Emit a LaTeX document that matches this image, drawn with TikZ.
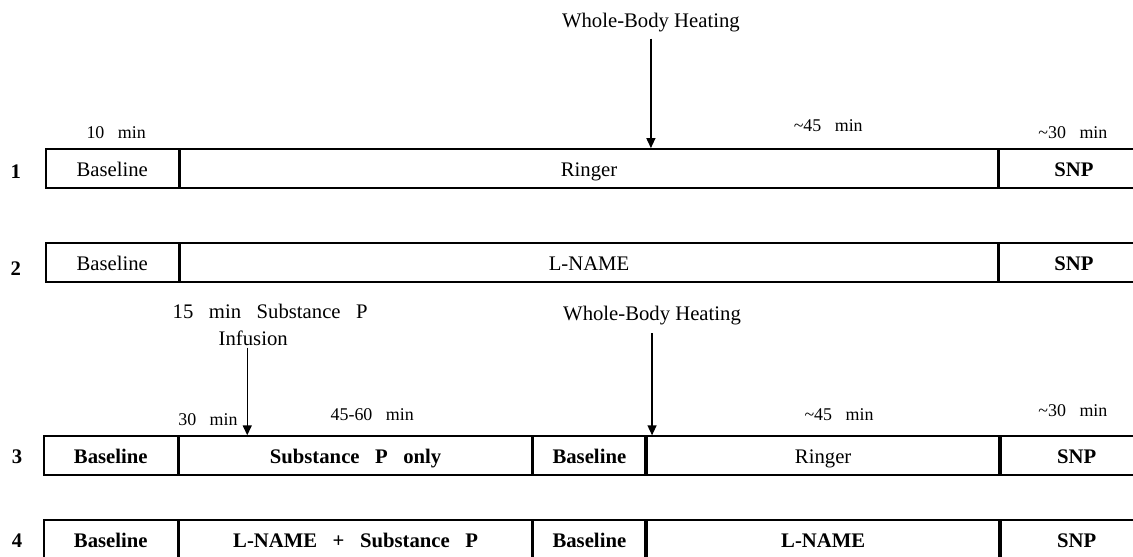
\documentclass[tikz,border=0pt]{standalone}
\usepackage{fontspec}
\setmainfont{Liberation Serif}
\usepackage{tikz}
\usetikzlibrary{positioning,arrows.meta}

\newcommand{\wsp}{\hspace{0.75em}}

\tikzset{
  seg/.style={draw, line width=0.9pt, minimum height=0.69cm, inner sep=0pt,
    text height=8.5pt, text depth=0.5pt, font=\fontsize{10.4}{12}\selectfont},
  segb/.style={seg, font=\fontsize{10.4}{12}\selectfont\bfseries},
  rownum/.style={font=\fontsize{10.4}{12}\selectfont\bfseries, inner sep=0pt},
  dur/.style={font=\fontsize{9}{11}\selectfont, inner sep=1pt},
  cue/.style={font=\fontsize{10.4}{12}\selectfont, inner sep=1pt},
  divider/.style={line width=1.4pt},
  pointer/.style={line width=0.7pt, -{Triangle[length=5pt,width=4.5pt]}}
}

\begin{document}
\begin{tikzpicture}
            \useasboundingbox (0,0) rectangle (20,9.815);
            \clip (0,0) rectangle (20,9.815);
            % protocol 1
            \node[rownum] (r1) at (0.28,6.78) {1};
            \node[seg, minimum width=2.35cm, anchor=west] (base1) at (0.79,6.84) {Baseline};
            \node[seg, minimum width=14.42cm, right=0pt of base1] (ringer1) {Ringer};
            \node[segb, minimum width=2.64cm, right=0pt of ringer1] (snp1) {SNP};
            \draw[divider] (ringer1.north east) -- (ringer1.south east);
            \node[dur] (t10) at (2.05,7.48) {10\wsp min};
            \node[dur] (t45a) at (14.62,7.59) {\textasciitilde45\wsp min};
            \node[dur] (t30a) at (18.94,7.48) {\textasciitilde30\wsp min};
            \node[cue] (whb1) at (11.49,9.41) {Whole-Body Heating};
            \draw[pointer] ([yshift=-2pt]whb1.south) -- (whb1.south |- ringer1.north);
            % protocol 2
            \node[rownum] (r2) at (0.28,5.07) {2};
            \node[seg, minimum width=2.35cm, anchor=west] (base2) at (0.79,5.18) {Baseline};
            \node[seg, minimum width=14.42cm, right=0pt of base2] (lname2) {L-NAME};
            \node[segb, minimum width=2.64cm, right=0pt of lname2] (snp2) {SNP};
            \draw[divider] (lname2.north east) -- (lname2.south east);
            % protocol 3
            \node[rownum] (r3) at (0.30,1.76) {3};
            \node[segb, minimum width=2.36cm, anchor=west] (base3) at (0.76,1.77) {Baseline};
            \node[segb, minimum width=6.22cm, right=0pt of base3] (sp3) {Substance\wsp P\wsp only};
            \node[segb, minimum width=1.97cm, right=0pt of sp3] (rebase3) {Baseline};
            \node[seg, minimum width=6.22cm, right=0pt of rebase3] (ringer3) {Ringer};
            \node[segb, minimum width=2.67cm, right=0pt of ringer3] (snp3) {SNP};
            \draw[divider] (sp3.north east) -- (sp3.south east);
            \draw[divider] (rebase3.north east) -- (rebase3.south east);
            \draw[divider] (ringer3.north east) -- (ringer3.south east);
            \node[dur] (t30b) at (3.67,2.40) {30\wsp min};
            \node[dur] (t4560) at (6.57,2.49) {45-60\wsp min};
            \node[dur] (t45b) at (14.81,2.49) {\textasciitilde45\wsp min};
            \node[dur] (t30c) at (18.94,2.56) {\textasciitilde30\wsp min};
            \node[cue] (sp15) at (4.77,4.31) {15\wsp min\wsp Substance\wsp P};
            \node[cue] (inf) at (4.47,3.85) {Infusion};
            \draw[pointer] ([xshift=-3pt]inf.south) -- ([xshift=-3pt]inf.south |- sp3.north);
            \node[cue] (whb2) at (11.51,4.25) {Whole-Body Heating};
            \draw[pointer] ([yshift=-3pt]whb2.south) -- (whb2.south |- ringer3.north);
            % protocol 4
            \node[rownum] (r4) at (0.30,0.27) {4};
            \node[segb, minimum width=2.36cm, anchor=west] (base4) at (0.76,0.29) {Baseline};
            \node[segb, minimum width=6.22cm, right=0pt of base4] (lsp4) {L-NAME\wsp +\wsp Substance\wsp P};
            \node[segb, minimum width=1.97cm, right=0pt of lsp4] (rebase4) {Baseline};
            \node[segb, minimum width=6.22cm, right=0pt of rebase4] (lname4) {L-NAME};
            \node[segb, minimum width=2.67cm, right=0pt of lname4] (snp4) {SNP};
            \draw[divider] (lsp4.north east) -- (lsp4.south east);
            \draw[divider] (rebase4.north east) -- (rebase4.south east);
            \draw[divider] (lname4.north east) -- (lname4.south east);
        \end{tikzpicture}
\end{document}
